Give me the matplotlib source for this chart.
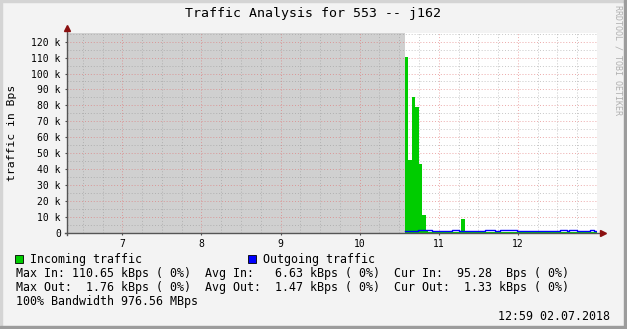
import numpy as np
import matplotlib
matplotlib.use("Agg")
import matplotlib.pyplot as plt
from matplotlib.ticker import MultipleLocator, FixedLocator
from matplotlib.patches import Rectangle

# 데이터 (시간 = hour, 값 = kBps)
in_t = [10.578, 10.608, 10.658, 10.696, 10.747, 10.785, 10.835, 10.86, 10.949, 10.987,
        11.253, 11.278, 11.329, 11.367, 11.709, 11.734, 12.494, 12.544, 12.747, 12.823, 13.0]
in_v = [110.65, 46.0, 85.0, 79.0, 43.0, 11.0, 1.6, 0.4, 1.0, 0.4,
        1.0, 8.8, 1.0, 0.4, 1.0, 0.4, 1.0, 0.4, 1.0, 0.4, 0.1]

out_t = [10.578, 10.734, 10.911, 11.165, 11.253, 11.582, 11.709, 11.772, 11.987,
         12.532, 12.620, 12.646, 12.747, 12.911, 12.962, 13.0]
out_v = [1.3, 1.76, 1.3, 1.7, 1.3, 1.7, 1.3, 1.7, 1.3,
         1.7, 1.3, 1.7, 1.3, 1.7, 1.33, 1.33]

unknown_start = 6.3
unknown_end = 10.578
hour_ticks = [7, 8, 9, 10, 11, 12]
hour_labels = ["7", "8", "9", "10", "11", "12"]
y_ticks = [0, 10, 20, 30, 40, 50, 60, 70, 80, 90, 100, 110, 120]

title = "Traffic Analysis for 553 -- j162"
legend_in = "Incoming traffic"
legend_out = "Outgoing traffic"
line_in = "Max In: 110.65 kBps ( 0%)  Avg In:   6.63 kBps ( 0%)  Cur In:  95.28  Bps ( 0%)"
line_out = "Max Out:  1.76 kBps ( 0%)  Avg Out:  1.47 kBps ( 0%)  Cur Out:  1.33 kBps ( 0%)"
line_bw = "100% Bandwidth 976.56 MBps"
stamp = "12:59 02.07.2018"

W, H = 627, 329
MONO = "DejaVu Sans Mono"

def fx(px):
    return px / W

def fy(py):
    return 1 - py / H

fig = plt.figure(figsize=(W / 100, H / 100), dpi=100, facecolor="#f3f3f3")

# rrdtool 스타일 테두리
fig.patches.append(Rectangle((0, fy(2)), 1, 2 / H, transform=fig.transFigure, color="#d4d4d4", zorder=0))
fig.patches.append(Rectangle((0, 0), 2 / W, 1, transform=fig.transFigure, color="#d4d4d4", zorder=0))
fig.patches.append(Rectangle((fx(624), 0), 3 / W, 1, transform=fig.transFigure, color="#9c9c9c", zorder=0))
fig.patches.append(Rectangle((0, 0), 1, 3 / H, transform=fig.transFigure, color="#9c9c9c", zorder=0))

ax = fig.add_axes([fx(67), fy(233), fx(597) - fx(67), (233 - 33) / H])
ax.set_facecolor("white")
ax.set_xlim(6.3, 13.0)
ax.set_ylim(0, 125.4)

# unknown 구간 (회색)
ax.axvspan(unknown_start, unknown_end, color="#d0d0d0", zorder=0.2, lw=0)

# 데이터
ax.fill_between(in_t, in_v, step="post", color="#00cc00", lw=0, zorder=2)
ax.step(out_t, out_v, where="post", color="#0000ff", lw=1.0, zorder=3)

# 그리드
ax.xaxis.set_major_locator(FixedLocator(hour_ticks))
ax.xaxis.set_minor_locator(MultipleLocator(0.25))
ax.yaxis.set_major_locator(FixedLocator(y_ticks))
ax.yaxis.set_minor_locator(MultipleLocator(5))
ax.grid(which="major", color="#e07070", alpha=0.6, lw=0.7, linestyle=(0, (1, 2)), zorder=1)
ax.grid(which="minor", color="#909090", alpha=0.5, lw=0.7, linestyle=(0, (1, 2)), zorder=1)
ax.set_axisbelow(True)
for gl in ax.get_xgridlines() + ax.get_ygridlines():
    gl.set_zorder(1)

ax.set_xticklabels(hour_labels, fontsize=7, family=MONO)
ax.set_yticklabels([("%d k" % v) if v else "0" for v in y_ticks], fontsize=7, family=MONO)
ax.tick_params(axis="both", which="major", length=1.5, width=0.8, color="#505050", pad=3)
ax.tick_params(axis="both", which="minor", length=0)

for s in ax.spines.values():
    s.set_visible(False)

# 축 + 화살표
ax.plot([0, 0], [-0.012, 1.02], transform=ax.transAxes, color="#555555", lw=1, clip_on=False, zorder=4)
ax.plot([-0.004, 1.008], [0, 0], transform=ax.transAxes, color="#555555", lw=1, clip_on=False, zorder=4)
ax.plot([0], [1.025], marker="^", markersize=4.5, color="#8b1010", transform=ax.transAxes, clip_on=False, zorder=5)
ax.plot([1.011], [0], marker=">", markersize=4.5, color="#8b1010", transform=ax.transAxes, clip_on=False, zorder=5)

# 텍스트
fig.text(fx(313), fy(13), title, ha="center", va="center", fontsize=9.5, family=MONO)
fig.text(fx(12), fy(133), "traffic in Bps", rotation=90, ha="center", va="center", fontsize=8.2, family=MONO)
fig.text(fx(618), fy(5), "RRDTOOL / TOBI OETIKER", rotation=270, ha="center", va="top",
         fontsize=6, family=MONO, color="#b0b0b0")

fig.patches.append(Rectangle((fx(15), fy(263)), 8 / W, 8 / H, transform=fig.transFigure,
                             facecolor="#00cc00", edgecolor="black", lw=0.6))
fig.patches.append(Rectangle((fx(248), fy(263)), 8 / W, 8 / H, transform=fig.transFigure,
                             facecolor="#0000ff", edgecolor="black", lw=0.6))
fig.text(fx(30), fy(259), legend_in, ha="left", va="center", fontsize=8.4, family=MONO)
fig.text(fx(263), fy(259), legend_out, ha="left", va="center", fontsize=8.4, family=MONO)
fig.text(fx(16), fy(273), line_in, ha="left", va="center", fontsize=8.4, family=MONO)
fig.text(fx(16), fy(287), line_out, ha="left", va="center", fontsize=8.4, family=MONO)
fig.text(fx(16), fy(301), line_bw, ha="left", va="center", fontsize=8.4, family=MONO)
fig.text(fx(610), fy(316), stamp, ha="right", va="center", fontsize=8.4, family=MONO)

fig.savefig("out.png", dpi=100, facecolor=fig.get_facecolor())
